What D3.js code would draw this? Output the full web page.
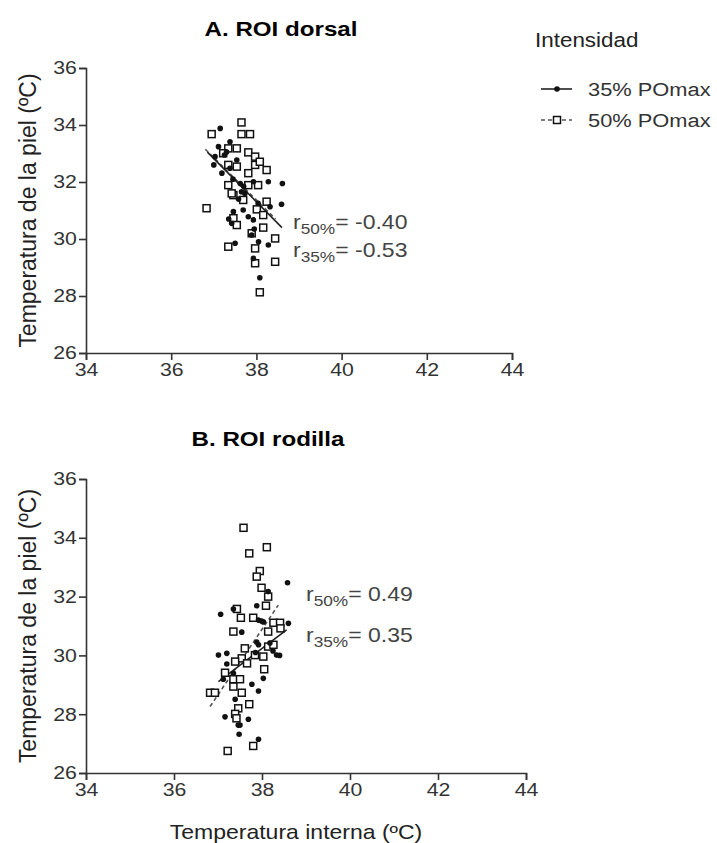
<!DOCTYPE html>
<html>
<head>
<meta charset="utf-8">
<script src="https://cdn.jsdelivr.net/npm/d3@7"></script>
<style>
  body { margin: 0; background: #fff; }
  svg text { font-family: Arial, "Liberation Sans", sans-serif; }
</style>
</head>
<body>
<svg width="717" height="843"></svg>
<script>
let svg = d3.select("svg");

// ----- data -----
let xTicks = [34, 36, 38, 40, 42, 44];
let yTicks = [26, 28, 30, 32, 34, 36];
let legendLabels = ['35% POmax', '50% POmax'];

// A. ROI dorsal, 35% POmax (filled dots)
let dorsal35 = [
  [37.15, 33.88], [37.38, 33.41], [37.11, 33.24], [37.03, 32.89], [37.54, 32.77],
  [37.38, 32.48], [37.19, 32.31], [37.62, 31.95], [37.93, 32.01], [38.28, 32.01],
  [38.61, 31.95], [38.59, 31.22], [37.73, 31.60], [38.04, 31.25], [37.65, 31.66],
  [37.46, 30.96], [37.69, 31.02], [37.81, 30.78], [37.93, 30.67], [37.89, 30.14],
  [37.50, 29.85], [38.28, 29.79], [37.93, 29.32], [38.08, 28.64], [38.32, 31.13],
  [37.30, 33.05], [37.00, 32.60], [37.45, 32.10], [37.58, 31.40], [37.35, 30.70],
  [38.05, 29.90], [37.70, 31.85], [37.25, 32.95], [37.95, 30.35], [37.42, 30.55]
];
// A. ROI dorsal, 50% POmax (open squares)
let dorsal50 = [
  [37.65, 34.09], [36.95, 33.68], [37.65, 33.68], [37.85, 33.68], [37.34, 33.18],
  [37.54, 33.18], [37.81, 33.04], [37.97, 32.89], [37.22, 33.01], [37.34, 32.60],
  [37.54, 32.54], [37.97, 32.60], [38.24, 32.42], [37.81, 32.31], [37.34, 31.89],
  [37.46, 31.54], [37.81, 31.89], [38.04, 31.89], [38.08, 32.71], [37.69, 31.37],
  [37.42, 31.60], [36.83, 31.08], [38.24, 31.31], [37.46, 30.73], [37.54, 30.49],
  [38.01, 31.04], [38.16, 30.84], [38.16, 30.40], [37.89, 30.20], [38.44, 30.02],
  [37.34, 29.73], [37.97, 29.67], [37.97, 29.15], [38.44, 29.20], [38.08, 28.13]
];
// B. ROI rodilla, 35% POmax
let rodilla35 = [
  [38.58, 32.47], [38.14, 32.17], [37.88, 31.69], [37.35, 31.58], [37.06, 31.40],
  [37.99, 31.17], [37.92, 31.20], [38.03, 31.14], [38.60, 31.09], [37.54, 30.79],
  [37.88, 30.45], [38.18, 30.42], [37.92, 30.36], [38.33, 30.01], [37.01, 30.01],
  [37.20, 30.07], [37.20, 29.71], [37.35, 29.39], [37.12, 29.19], [37.77, 29.02],
  [38.03, 29.22], [37.92, 28.79], [37.39, 28.51], [37.16, 27.91], [37.69, 27.83],
  [37.46, 27.63], [37.50, 27.63], [37.48, 27.32], [37.92, 27.15], [38.25, 30.15],
  [38.40, 30.00], [37.85, 30.10]
];
// B. ROI rodilla, 50% POmax
let rodilla50 = [
  [37.58, 34.34], [37.71, 33.47], [38.11, 33.68], [37.95, 32.87], [37.88, 32.68],
  [37.99, 32.30], [38.14, 32.00], [38.09, 31.69], [37.43, 31.58], [37.52, 31.28],
  [37.80, 31.28], [38.26, 31.11], [38.41, 31.11], [38.42, 30.92], [38.14, 30.81],
  [37.35, 30.81], [37.61, 30.24], [38.14, 30.30], [38.26, 30.36], [37.84, 30.01],
  [38.03, 29.96], [37.54, 29.90], [37.39, 29.79], [37.66, 29.73], [38.05, 29.53],
  [37.16, 29.41], [37.35, 29.19], [37.50, 29.19], [37.35, 28.94], [37.54, 28.73],
  [36.82, 28.73], [36.93, 28.73], [37.71, 28.34], [37.46, 28.20], [37.39, 28.01],
  [37.42, 27.86], [37.80, 26.92], [37.22, 26.75]
];

// fitted lines (end points)
let dorsalFit35 = [[36.85, 33.05], [38.6, 30.4]];
let dorsalFit50 = [[36.8, 33.15], [38.45, 30.7]];
let rodillaFit35 = [[37.01, 29.11], [38.56, 30.87]];
let rodillaFit50 = [[36.82, 28.26], [38.37, 31.71]];

let dorsalR = ['-0.40', '-0.53'];
let rodillaR = ['0.49', '0.35'];

// ----- layout -----
let stretch = 1.15;   // the original picture is a bit wider than tall
let panels = [
  { title: 'A. ROI dorsal', titleX: 281, titleY: 36, x0: 86, x1: 512, yTop: 68, yBot: 353,
    d35: dorsal35, d50: dorsal50, f35: dorsalFit35, f50: dorsalFit50,
    r: dorsalR, rX: 293, rY: [229, 257] },
  { title: 'B. ROI rodilla', titleX: 268, titleY: 446, x0: 86, x1: 526, yTop: 479, yBot: 773,
    d35: rodilla35, d50: rodilla50, f35: rodillaFit35, f50: rodillaFit50,
    r: rodillaR, rX: 306, rY: [601, 642] }
];

let axisColor = '#333';
let textColor = '#333';

function addText(parent, x, y, str, size, rotate, sx) {
  return parent.append('text')
    .attr('transform', `translate(${x},${y}) scale(${sx || stretch},1)` + (rotate ? ` rotate(${rotate})` : ''))
    .style('font-size', size + 'px')
    .text(str);
}

panels.forEach(p => {
  let x = d3.scaleLinear().domain([34, 44]).range([p.x0, p.x1]);
  let y = d3.scaleLinear().domain([26, 36]).range([p.yBot, p.yTop]);
  let g = svg.append('g');

  addText(g, p.titleX, p.titleY, p.title, 21)
    .attr('text-anchor', 'middle')
    .style('font-weight', 'bold')
    .attr('fill', '#000');

  let xa = g.append('g')
    .attr('transform', `translate(0,${p.yBot})`)
    .call(d3.axisBottom(x).tickValues(xTicks).tickSize(7).tickPadding(3));
  let ya = g.append('g')
    .attr('transform', `translate(${p.x0},0)`)
    .call(d3.axisLeft(y).tickValues(yTicks).tickSize(7).tickPadding(1));
  [xa, ya].forEach(a => {
    a.select('.domain').attr('stroke', axisColor).attr('stroke-width', 1.6);
    a.selectAll('.tick line').attr('stroke', axisColor).attr('stroke-width', 1.6);
    a.selectAll('.tick text').attr('fill', textColor)
      .attr('transform', `scale(${stretch},1)`)
      .style('font-size', '18.5px').style('font-family', 'Arial, "Liberation Sans", sans-serif');
  });

  addText(g, 36, (p.yTop + p.yBot) / 2, 'Temperatura de la piel (ºC)', 23, -90, 1.05)
    .attr('text-anchor', 'middle')
    .attr('fill', '#222');

  // fit lines
  let line = d3.line().x(d => x(d[0])).y(d => y(d[1]));
  g.append('path').attr('d', line(p.f50))
    .attr('stroke', '#555').attr('stroke-width', 1.6)
    .attr('stroke-dasharray', '4,3').attr('fill', 'none');
  g.append('path').attr('d', line(p.f35))
    .attr('stroke', '#222').attr('stroke-width', 1.6).attr('fill', 'none');

  // points
  g.selectAll('rect.sq').data(p.d50).enter().append('rect')
    .attr('class', 'sq')
    .attr('x', d => x(d[0]) - 3.5).attr('y', d => y(d[1]) - 3.5)
    .attr('width', 7).attr('height', 7)
    .attr('fill', '#fff').attr('stroke', '#111').attr('stroke-width', 1.5);
  g.selectAll('circle.dot').data(p.d35).enter().append('circle')
    .attr('class', 'dot')
    .attr('cx', d => x(d[0])).attr('cy', d => y(d[1]))
    .attr('r', 2.8).attr('fill', '#111');

  // correlation labels
  ['50%', '35%'].forEach((s, i) => {
    let t = addText(g, p.rX, p.rY[i], null, 20).attr('fill', '#444');
    t.append('tspan').text('r');
    t.append('tspan').attr('dy', 5).style('font-size', '15px').text(s);
    t.append('tspan').attr('dy', -5).text('= ' + p.r[i]);
  });
});

// x axis title
addText(svg, 296, 839, 'Temperatura interna (ºC)', 20)
  .attr('text-anchor', 'middle')
  .attr('fill', '#222');

// legend
addText(svg, 535, 47, 'Intensidad', 19.5).attr('fill', '#222');

legendLabels.forEach((lab, i) => {
  let ly = 89 + i * 31;
  let lg = svg.append('g');
  lg.append('line')
    .attr('x1', 541).attr('x2', 572).attr('y1', ly).attr('y2', ly)
    .attr('stroke', i === 0 ? '#222' : '#555').attr('stroke-width', 1.6)
    .attr('stroke-dasharray', i === 0 ? null : '4,3');
  if (i === 0) {
    lg.append('circle').attr('cx', 557).attr('cy', ly).attr('r', 2.8).attr('fill', '#111');
  } else {
    lg.append('rect').attr('x', 553.5).attr('y', ly - 3.5).attr('width', 7).attr('height', 7)
      .attr('fill', '#fff').attr('stroke', '#111').attr('stroke-width', 1.5);
  }
  addText(lg, 588, ly + 7, lab, 19).attr('fill', '#333');
});
</script>
</body>
</html>
